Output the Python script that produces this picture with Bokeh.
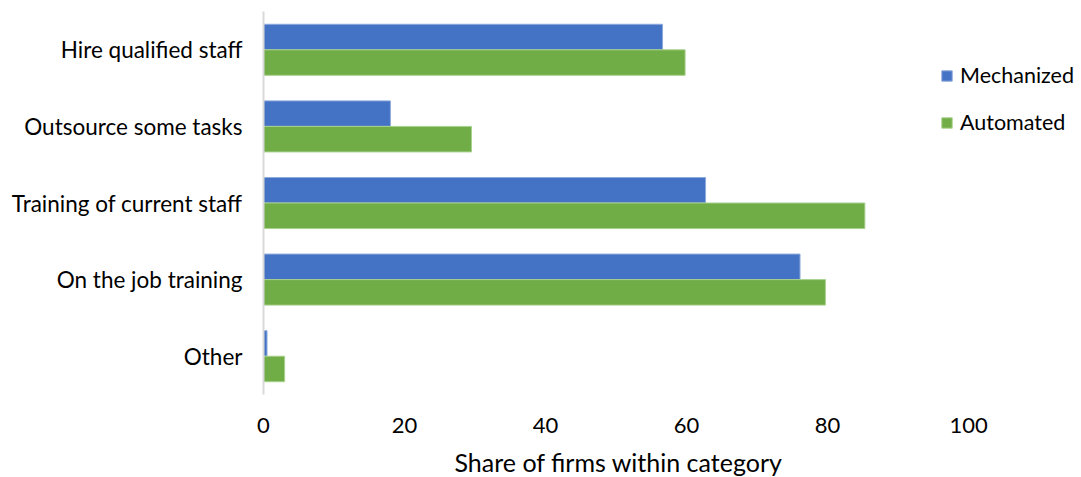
from bokeh.plotting import figure
from bokeh.models import FactorRange, Range1d, FixedTicker, Legend, LegendItem, ColumnDataSource, Title
from bokeh.transform import dodge
from bokeh.embed import file_html
from bokeh.resources import INLINE

categories = ["Hire qualified staff", "Outsource some tasks", "Training of current staff",
              "On the job training", "Other"]
mechanized = [56.6, 18.0, 62.7, 76.1, 0.5]
automated = [59.8, 29.5, 85.3, 79.7, 3.0]
x_ticks = [0, 20, 40, 60, 80, 100]
x_title = "Share of firms within category"

FONT = "Lato"
src = ColumnDataSource(dict(cat=categories, mech=mechanized, auto=automated))

p = figure(frame_width=816, frame_height=383, output_backend="svg", toolbar_location=None,
           y_range=FactorRange(*reversed(categories), range_padding=0),
           x_range=Range1d(0, 115.74),
           min_border_left=263, min_border_top=11, min_border_bottom=0, min_border_right=1)
p.outline_line_color = None
p.grid.grid_line_color = None
p.background_fill_color = "white"

r1 = p.hbar(y=dodge("cat", 0.1667, range=p.y_range), right="mech", left=0, height=0.333,
            source=src, fill_color="#4472C4", line_color="#8faadc", line_width=1)
r2 = p.hbar(y=dodge("cat", -0.1667, range=p.y_range), right="auto", left=0, height=0.333,
            source=src, fill_color="#70AD47", line_color="#a9d18e", line_width=1)

p.xaxis.ticker = FixedTicker(ticks=x_ticks)
p.xaxis.axis_line_color = None
p.xaxis.major_tick_line_color = None
p.xaxis.minor_tick_line_color = None
p.xaxis.major_label_standoff = 17
p.xaxis.major_label_text_font = FONT
p.xaxis.major_label_text_font_size = "22px"
p.xaxis.major_label_text_color = "black"

t = Title(text=x_title, align="left", offset=191, standoff=18,
          text_font=FONT, text_font_size="25px", text_font_style="normal", text_color="black")
p.add_layout(t, "below")

p.yaxis.axis_line_color = "#d9d9d9"
p.yaxis.axis_line_width = 2
p.yaxis.major_tick_line_color = None
p.yaxis.minor_tick_line_color = None
p.yaxis.major_label_standoff = 15
p.yaxis.major_label_text_font = FONT
p.yaxis.major_label_text_font_size = "22.5px"
p.yaxis.major_label_text_color = "black"

legend = Legend(items=[LegendItem(label="Mechanized", renderers=[r1]),
                       LegendItem(label="Automated", renderers=[r2])],
                location=(677, 259), orientation="vertical",
                border_line_color=None, background_fill_alpha=0,
                padding=0, margin=0, spacing=21, glyph_width=13, glyph_height=13,
                label_text_font=FONT, label_text_font_size="21.5px", label_text_color="black",
                label_standoff=7, label_height=22)
p.add_layout(legend, "center")

open("out.html", "w").write(file_html(p, INLINE))
